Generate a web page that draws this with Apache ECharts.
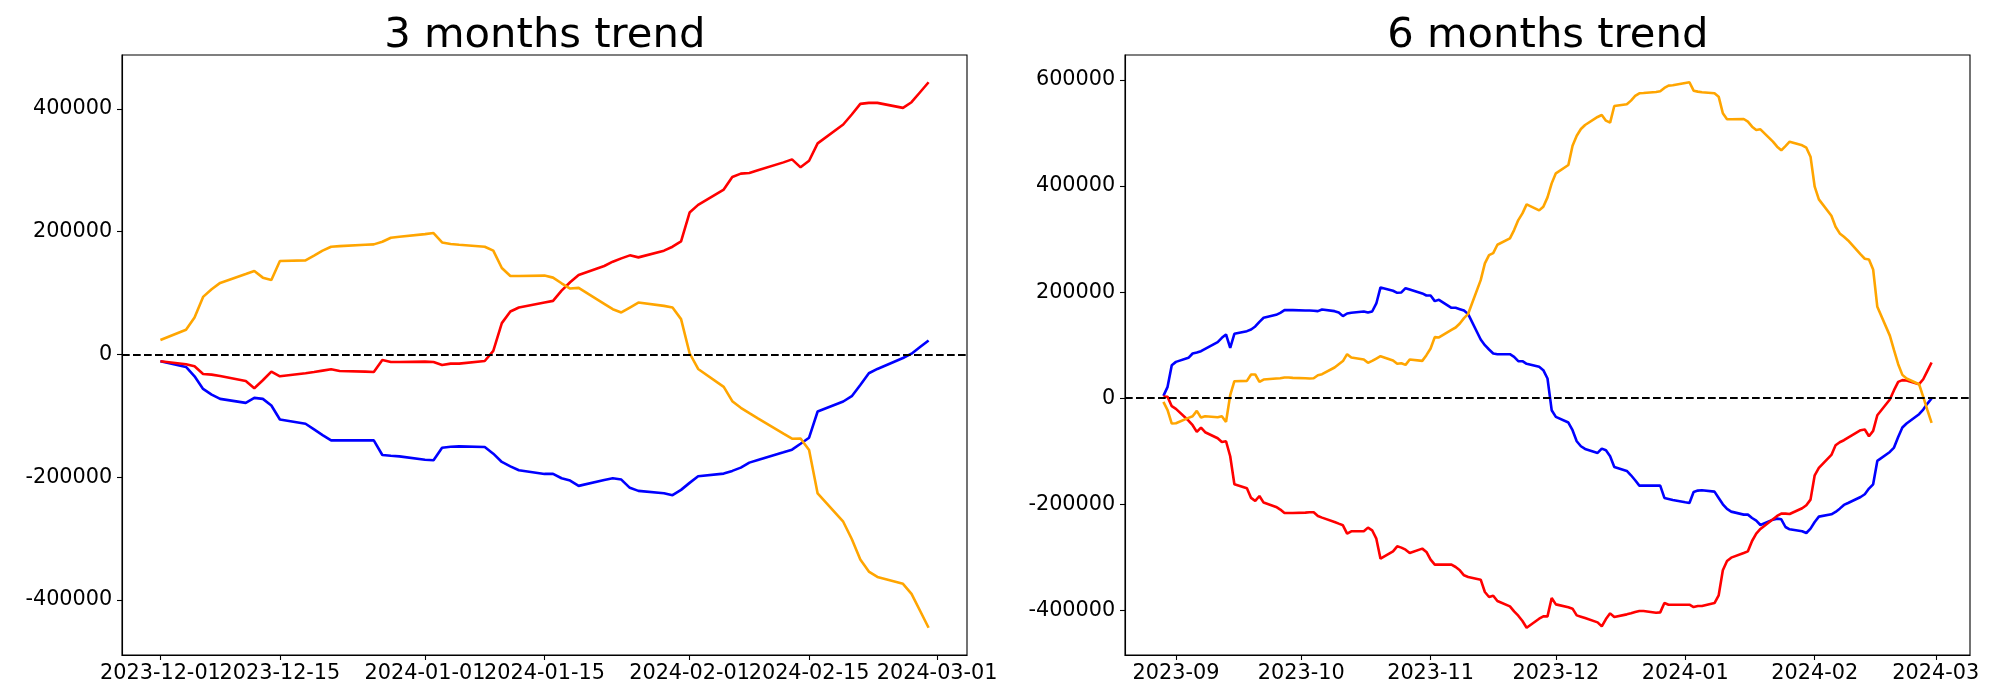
<!DOCTYPE html>
<html><head><meta charset="utf-8">
<script src="https://cdn.jsdelivr.net/npm/echarts@6/dist/echarts.min.js"></script>
<style>html,body{margin:0;padding:0;background:#fff}#c{width:2000px;height:700px}</style>
</head><body><div id="c"></div>
<script>
// ---------- 3 months data ----------
const dates3 = [
'2023-12-01','2023-12-04','2023-12-05','2023-12-06','2023-12-07','2023-12-08',
'2023-12-11','2023-12-12','2023-12-13','2023-12-14','2023-12-15',
'2023-12-18','2023-12-19','2023-12-20','2023-12-21','2023-12-22',
'2023-12-25','2023-12-26','2023-12-27','2023-12-28','2023-12-29',
'2024-01-01','2024-01-02','2024-01-03','2024-01-04','2024-01-05',
'2024-01-08','2024-01-09','2024-01-10','2024-01-11','2024-01-12',
'2024-01-15','2024-01-16','2024-01-17','2024-01-18','2024-01-19',
'2024-01-22','2024-01-23','2024-01-24','2024-01-25','2024-01-26',
'2024-01-29','2024-01-30','2024-01-31','2024-02-01','2024-02-02',
'2024-02-05','2024-02-06','2024-02-07','2024-02-08','2024-02-09',
'2024-02-12','2024-02-13','2024-02-14','2024-02-15','2024-02-16',
'2024-02-19','2024-02-20','2024-02-21','2024-02-22','2024-02-23',
'2024-02-26','2024-02-27','2024-02-28','2024-02-29'];
const blue3 = [
-11100,-20300,-35500,-56100,-65300,-72300,
-78800,-70700,-72300,-83100,-105900,
-112900,-122100,-131300,-140000,-140000,
-140000,-140000,-163800,-165000,-166000,
-171400,-172400,-151900,-150300,-149700,
-150800,-161600,-175100,-182200,-188700,
-194600,-194600,-201700,-205400,-214100,
-204400,-201700,-203800,-217300,-222200,
-226000,-229300,-220600,-209200,-198400,
-194100,-189700,-184300,-176200,-171900,
-159400,-155100,-145400,-135600,-92900,
-76600,-68000,-49600,-30600,-23600,
-5700,1300,12100,22900];
const red3 = [
-11100,-16000,-19300,-31700,-32800,-35000,
-43100,-55000,-42000,-27900,-35500,
-30600,-28500,-26300,-24100,-26800,
-27900,-28500,-9000,-12200,-12200,
-11700,-12200,-17100,-14900,-14900,
-10600,6000,51100,70000,76500,
84600,87300,104100,117700,129600,
144200,151200,156600,161500,158200,
169100,175600,184200,231300,243800,
268700,289200,294600,295700,300000,
313000,317900,304900,315700,343900,
374700,391000,408300,409900,409900,
401800,411000,427200,443500];
const orange3 = [
23500,40300,60300,93800,106300,116600,
131200,136100,125200,121400,152300,
153400,161000,169100,175600,176600,
178800,179400,183700,190200,191800,
196100,197800,182600,179900,178800,
175600,169100,140900,127900,127900,
128500,125200,116000,107400,108500,
82500,73800,68400,76500,84600,
79200,76500,57600,2000,-23600,
-52800,-76100,-86900,-95600,-104200,
-129100,-137200,-137000,-155700,-226500,
-272500,-300700,-334200,-353700,-362400,
-373700,-390000,-417600,-445200];
const xTicks3 = ['2023-12-01','2023-12-15','2024-01-01','2024-01-15','2024-02-01','2024-02-15','2024-03-01'];
const yTicks3 = [-400000,-200000,0,200000,400000];

// ---------- 6 months data ----------
const dates6 = [
'2023-08-29','2023-08-30','2023-08-31','2023-09-01',
'2023-09-04','2023-09-05','2023-09-06','2023-09-07','2023-09-08',
'2023-09-11','2023-09-12','2023-09-13','2023-09-14','2023-09-15',
'2023-09-18','2023-09-19','2023-09-20','2023-09-21','2023-09-22',
'2023-09-25','2023-09-26','2023-09-27','2023-09-28','2023-09-29',
'2023-10-02','2023-10-03','2023-10-04','2023-10-05','2023-10-06',
'2023-10-09','2023-10-10','2023-10-11','2023-10-12','2023-10-13',
'2023-10-16','2023-10-17','2023-10-18','2023-10-19','2023-10-20',
'2023-10-23','2023-10-24','2023-10-25','2023-10-26','2023-10-27',
'2023-10-30','2023-10-31','2023-11-01','2023-11-02','2023-11-03',
'2023-11-06','2023-11-07','2023-11-08','2023-11-09','2023-11-10',
'2023-11-13','2023-11-14','2023-11-15','2023-11-16','2023-11-17',
'2023-11-20','2023-11-21','2023-11-22','2023-11-23','2023-11-24',
'2023-11-27','2023-11-28','2023-11-29','2023-11-30','2023-12-01',
'2023-12-04','2023-12-05','2023-12-06','2023-12-07','2023-12-08',
'2023-12-11','2023-12-12','2023-12-13','2023-12-14','2023-12-15',
'2023-12-18','2023-12-19','2023-12-20','2023-12-21','2023-12-22',
'2023-12-25','2023-12-26','2023-12-27','2023-12-28','2023-12-29',
'2024-01-01','2024-01-02','2024-01-03','2024-01-04','2024-01-05',
'2024-01-08','2024-01-09','2024-01-10','2024-01-11','2024-01-12',
'2024-01-15','2024-01-16','2024-01-17','2024-01-18','2024-01-19',
'2024-01-22','2024-01-23','2024-01-24','2024-01-25','2024-01-26',
'2024-01-29','2024-01-30','2024-01-31','2024-02-01','2024-02-02',
'2024-02-05','2024-02-06','2024-02-07','2024-02-08','2024-02-09',
'2024-02-12','2024-02-13','2024-02-14','2024-02-15','2024-02-16',
'2024-02-19','2024-02-20','2024-02-21','2024-02-22','2024-02-23',
'2024-02-26','2024-02-27','2024-02-28','2024-02-29'];
const blue6 = [
4400,21400,62300,68500,
76100,84300,86200,88700,93100,
105700,113800,120100,95000,121400,
126400,129600,135200,144000,151600,
157200,161000,166000,166000,166000,
165400,165400,164800,164100,167300,
164100,161600,154700,159700,161000,
163500,161600,163500,178600,208800,
202500,198700,199400,207500,205000,
197500,193700,193700,183000,185500,
170400,170400,167900,165400,158500,
110700,100000,91800,84300,83000,
83000,78000,69800,69800,64800,
59100,52800,37100,-22600,-35200,
-45900,-60400,-81100,-90600,-95600,
-103100,-95000,-98100,-109400,-129600,
-137100,-145300,-154700,-164800,-164800,
-164800,-164800,-188000,-189900,-191800,
-196200,-197500,-176700,-174200,-173600,
-176100,-188000,-200000,-208800,-213800,
-219500,-219500,-225800,-230800,-239000,
-228900,-227000,-228300,-242800,-247200,
-250900,-254100,-245900,-233300,-223300,
-218900,-214500,-208200,-201200,-197500,
-186200,-181100,-170400,-162300,-118200,
-101300,-93100,-73000,-55300,-47800,
-30200,-21400,-10100,-600];
const red6 = [
3100,2500,-15100,-20100,
-42100,-50900,-63500,-55300,-64100,
-75500,-82400,-81100,-109400,-162300,
-169800,-188000,-193700,-184300,-196800,
-205000,-210000,-216300,-216300,-216300,
-215700,-215100,-215100,-222000,-225100,
-233300,-236500,-239600,-255300,-250900,
-250900,-244000,-249000,-264800,-302500,
-288700,-279200,-281700,-285500,-291800,
-283600,-289900,-304400,-313800,-313800,
-313800,-318200,-324500,-333900,-337100,
-342100,-365400,-374800,-372300,-382400,
-392400,-401900,-410000,-420100,-432700,
-415700,-411300,-411300,-376700,-388700,
-394300,-396800,-409400,-411900,-414500,
-422600,-430200,-416300,-405600,-412600,
-407500,-405600,-403100,-401200,-401200,
-404400,-403800,-386100,-389300,-389300,
-389300,-389300,-393700,-391800,-391800,
-386100,-371700,-324500,-306900,-300600,
-291800,-288700,-269200,-255300,-246500,
-228300,-222000,-217600,-217600,-218200,
-207500,-201900,-191200,-145300,-131400,
-106900,-88700,-83000,-79200,-74200,
-60400,-59100,-71700,-61600,-32100,
-2500,15100,30800,34000,33300,
26400,35800,51600,67300];
const orange6 = [
-6900,-22600,-47800,-47200,
-37100,-34000,-23900,-36500,-34000,
-35800,-34000,-44700,5700,32100,
32700,44700,44700,30800,35200,
37100,37700,39000,39000,38400,
37700,37100,37700,43400,45300,
57900,64100,70000,83000,76700,
73000,66700,70400,74800,79200,
71100,64800,66000,62900,73000,
70400,81100,93700,115100,114500,
128900,133300,140900,150900,159100,
222600,254100,269800,273600,289300,
301200,317000,335800,348400,365400,
354100,361000,378600,405000,423900,
439600,476100,494900,507500,515100,
530200,533900,523200,519500,550900,
554100,561000,569800,574800,575400,
577300,578600,584900,589300,590000,
594300,595600,579800,578000,576700,
574800,568500,537100,525800,525800,
526400,521400,511900,505600,506900,
483600,474200,467300,475400,483600,
476700,472300,455300,398700,374800,
344000,323300,310700,304400,297500,
271100,262900,261600,242800,172300,
118000,90600,64100,44000,37100,
26400,2500,-22600,-46500];
const xTicks6 = ['2023-09','2023-10','2023-11','2023-12','2024-01','2024-02','2024-03'];
const yTicks6 = [-400000,-200000,0,200000,400000,600000];

const titles = ['3 months trend','6 months trend'];
const colors = {blue:'#0000ff', red:'#ff0000', orange:'#ffa500'};

// ---------- helpers ----------
const FONT = 'DejaVu Sans';
const DAY = 86400000;
function ts(s){ const p = s.split('-').map(Number); return Date.UTC(p[0], p[1]-1, p[2] || 1); }
function pairs(dates, vals){ return dates.map((d,i)=>[ts(d), vals[i]]); }
function xRange(dates){ const a=ts(dates[0]), b=ts(dates[dates.length-1]); const m=(b-a)*0.05; return [a-m,b+m]; }
function yRange(arrs){ const all=[].concat(...arrs); const lo=Math.min(...all), hi=Math.max(...all); const m=(hi-lo)*0.05; return [lo-m,hi+m]; }

const grids = [
  {left:122, top:55, width:845, height:600},
  {left:1125, top:55, width:845, height:600}
].map(g => Object.assign(g, {show:true, borderColor:'#000', borderWidth:1.1, backgroundColor:'transparent', containLabel:false}));

// x axis; `pick` selects which tick labels this axis instance draws (alternating instances avoid label-overlap hiding)
function mkX(idx, dates, ticks, pick, showLine){
  const r = xRange(dates);
  const sel = ticks.filter((t,i) => pick(i));
  const tv = sel.map(ts);
  return {type:'value', gridIndex:idx, position:'bottom', offset:0, min:r[0], max:r[1], scale:true,
    axisLine:{show:showLine, onZero:false, lineStyle:{color:'#000', width:1.1}},
    axisTick:{show:true, inside:false, length:5, customValues:tv, lineStyle:{color:'#000', width:1.1}},
    axisLabel:{show:true, customValues:tv, margin:8.5, color:'#000', fontFamily:FONT, fontSize:20.8,
      hideOverlap:false,
      formatter: v => { for (let i=0;i<tv.length;i++) if (Math.abs(tv[i]-v) < DAY/2) return sel[i]; return ''; }},
    splitLine:{show:false}};
}
function mkY(idx, arrs, ticks){
  const r = yRange(arrs);
  return {type:'value', gridIndex:idx, min:r[0], max:r[1], scale:true,
    axisLine:{show:true, onZero:false, lineStyle:{color:'#000', width:1.1}},
    axisTick:{show:true, inside:false, length:5, customValues:ticks, lineStyle:{color:'#000', width:1.1}},
    axisLabel:{show:true, customValues:ticks, margin:9.7, color:'#000', fontFamily:FONT, fontSize:20.8,
      showMinLabel:true, showMaxLabel:true, formatter: v => String(Math.round(v))},
    splitLine:{show:false}};
}
function line(idx, dates, vals, color, withZero){
  const s = {type:'line', xAxisIndex:idx, yAxisIndex:idx, data:pairs(dates, vals), showSymbol:false, symbol:'none',
    lineStyle:{color:color, width:2.6}, itemStyle:{color:color}, silent:true, animation:false, z:2};
  if (withZero) s.markLine = {silent:true, symbol:'none', animation:false, label:{show:false},
    lineStyle:{color:'#000', width:2.2, type:[7.7,3.3]}, data:[{yAxis:0}]};
  return s;
}

const even = i => i % 2 === 0, odd = i => i % 2 === 1, all = () => true;
const chart = echarts.init(document.getElementById('c'), null, {renderer:'canvas', width:2000, height:700});
chart.setOption({
  animation:false,
  backgroundColor:'#fff',
  grid: grids,
  xAxis: [
    mkX(0, dates3, xTicks3, even, true),
    mkX(1, dates6, xTicks6, all, true),
    mkX(0, dates3, xTicks3, odd, false)
  ],
  yAxis: [mkY(0, [blue3, red3, orange3], yTicks3), mkY(1, [blue6, red6, orange6], yTicks6)],
  series: [
    line(0, dates3, blue3, colors.blue),
    line(0, dates3, red3, colors.red),
    line(0, dates3, orange3, colors.orange, true),
    line(1, dates6, blue6, colors.blue),
    line(1, dates6, red6, colors.red),
    line(1, dates6, orange6, colors.orange, true)
  ],
  graphic: [
    {type:'text', x:544.8, y:36, style:{text:titles[0], fill:'#000', font:'41.7px "DejaVu Sans"', textAlign:'center', textVerticalAlign:'middle', verticalAlign:'middle'}},
    {type:'text', x:1547.8, y:36, style:{text:titles[1], fill:'#000', font:'41.7px "DejaVu Sans"', textAlign:'center', textVerticalAlign:'middle', verticalAlign:'middle'}}
  ]
});
</script>
</body></html>
